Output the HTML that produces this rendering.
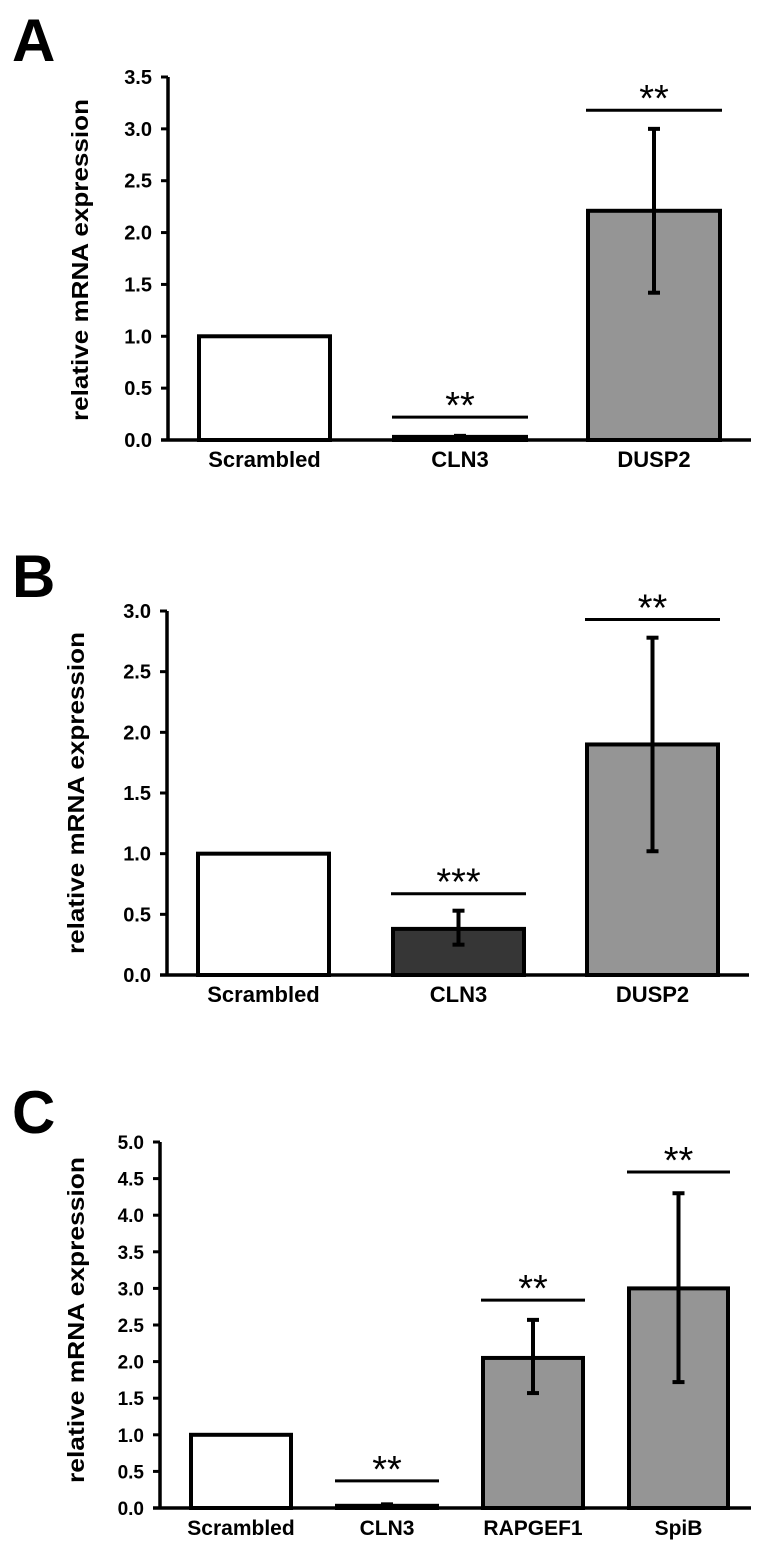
<!DOCTYPE html>
<html><head><meta charset="utf-8"><style>
body{margin:0;background:#fff}
svg{display:block;font-family:"Liberation Sans",Arial,sans-serif;font-weight:bold}
</style></head><body>
<svg id="fig" width="764" height="1551" viewBox="0 0 764 1551" xmlns="http://www.w3.org/2000/svg"></svg>
<script>
// Panel A data
const catsA = ["Scrambled","CLN3","DUSP2"];
const valsA = [1.0, 0.03, 2.21];
const errLoA = [null, null, 1.42];
const errHiA = [null, 0.04, 3.0];
const sigA = [null, 0.22, 3.18];
const starsA = ["", "**", "**"];
const ticksA = ["0.0","0.5","1.0","1.5","2.0","2.5","3.0","3.5"];
// Panel B data
const catsB = ["Scrambled","CLN3","DUSP2"];
const valsB = [1.0, 0.38, 1.9];
const errLoB = [null, 0.25, 1.02];
const errHiB = [null, 0.53, 2.78];
const sigB = [null, 0.67, 2.93];
const starsB = ["", "***", "**"];
const ticksB = ["0.0","0.5","1.0","1.5","2.0","2.5","3.0"];
// Panel C data
const catsC = ["Scrambled","CLN3","RAPGEF1","SpiB"];
const valsC = [1.0, 0.03, 2.05, 3.0];
const errLoC = [null, null, 1.57, 1.72];
const errHiC = [null, 0.05, 2.57, 4.3];
const sigC = [null, 0.37, 2.84, 4.59];
const starsC = ["", "**", "**", "**"];
const ticksC = ["0.0","0.5","1.0","1.5","2.0","2.5","3.0","3.5","4.0","4.5","5.0"];

const NS="http://www.w3.org/2000/svg";
const svg=document.getElementById('fig');
function mk(tag,attrs,parent,text){const e=document.createElementNS(NS,tag);for(const k in attrs)e.setAttribute(k,attrs[k]);if(text!==undefined)e.textContent=text;(parent||svg).appendChild(e);return e;}

function panel(p){
  const g=mk('g',{});
  
  
  const ymax=parseFloat(p.ticks[p.ticks.length-1]);
  const y=v=>p.y0-(v/ymax)*(p.y0-p.yTop);
  const pl=mk('text',{x:p.letterX,y:p.letterY,'font-size':60,'font-weight':'bold'},g,p.id);
  
  
  const ya=mk('line',{x1:p.ax,y1:p.yTop,x2:p.ax,y2:p.y0+1.5,stroke:'#000','stroke-width':3.5},g);
  
  
  const xa=mk('line',{x1:p.ax-7,y1:p.y0,x2:p.axEnd,y2:p.y0,stroke:'#000','stroke-width':3.5},g);
  
  
  p.ticks.forEach(t=>{
    const v=parseFloat(t);
    const tk=mk('line',{x1:p.ax-7,y1:y(v),x2:p.ax,y2:y(v),stroke:'#000','stroke-width':3},g);
    
    
    const tl=mk('text',{x:p.ax-16,y:y(v)+7,'font-size':p.tickFs,'text-anchor':'end'},g,t);
    
    
  });
  const tt=mk('text',{x:0,y:0,'font-size':23,'text-anchor':'middle',textLength:p.titleLen,lengthAdjust:'spacingAndGlyphs',transform:`translate(${p.titleX},${p.titleY}) rotate(-90)`},g,'relative mRNA expression');
  
  
  p.cats.forEach((c,i)=>{
    const x1=p.bx[i][0],x2=p.bx[i][1],cx=(x1+x2)/2;
    const r=mk('rect',{x:x1,y:y(p.vals[i]),width:x2-x1,height:p.y0-y(p.vals[i]),fill:p.fills[i],stroke:'#000','stroke-width':4},g);
    
    
    if(p.hi[i]!==null){
      const lo=p.lo[i]===null?p.vals[i]:p.lo[i];
      const e=mk('line',{x1:cx,y1:y(lo),x2:cx,y2:y(p.hi[i]),stroke:'#000','stroke-width':4},g);
      
      
      mk('line',{x1:cx-6,y1:y(p.hi[i]),x2:cx+6,y2:y(p.hi[i]),stroke:'#000','stroke-width':4},g);
      if(p.lo[i]!==null) mk('line',{x1:cx-6,y1:y(lo),x2:cx+6,y2:y(lo),stroke:'#000','stroke-width':4},g);
    }
    if(p.sig[i]!==null){
      const s=mk('line',{x1:x1-2,y1:y(p.sig[i]),x2:x2+2,y2:y(p.sig[i]),stroke:'#000','stroke-width':3},g);
      
      
      const st=mk('text',{x:cx,y:y(p.sig[i])+1,'font-size':38,'text-anchor':'middle','font-weight':'normal'},g,p.stars[i]);
      
      
    }
    const cl=mk('text',{x:cx,y:p.y0+27,'font-size':p.catFs,'text-anchor':'middle'},g,c);
    
    
  });
}
const W='#fff',G='#959595',D='#363636';
panel({id:'A',letterX:12,letterY:61,cats:catsA,vals:valsA,lo:errLoA,hi:errHiA,sig:sigA,stars:starsA,ticks:ticksA,tickFs:20,catFs:22,
  ax:168,axEnd:751,yTop:77,y0:440,bx:[[199,330],[394,526],[588,720]],fills:[W,W,G],titleX:88,titleY:260,titleLen:322});
panel({id:'B',letterX:12,letterY:597,cats:catsB,vals:valsB,lo:errLoB,hi:errHiB,sig:sigB,stars:starsB,ticks:ticksB,tickFs:20,catFs:22,
  ax:167,axEnd:749,yTop:611,y0:975,bx:[[198,329],[393,524],[587,718]],fills:[W,D,G],titleX:84,titleY:793,titleLen:322});
panel({id:'C',letterX:12,letterY:1133,cats:catsC,vals:valsC,lo:errLoC,hi:errHiC,sig:sigC,stars:starsC,ticks:ticksC,tickFs:19,catFs:21,
  ax:160,axEnd:751,yTop:1142,y0:1508,bx:[[191,291],[337,437],[483,583],[629,728]],fills:[W,W,G,G],titleX:84,titleY:1320,titleLen:326});
</script>
</body></html>
